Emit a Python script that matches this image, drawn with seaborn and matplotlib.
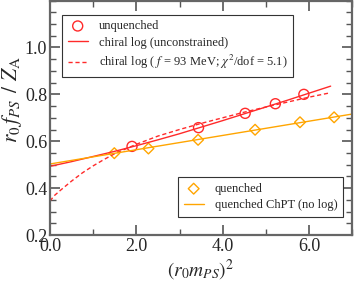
import numpy as np
import pandas as pd
import seaborn as sb
import matplotlib
matplotlib.use('Agg')
import matplotlib.pyplot as plt
from matplotlib.ticker import MultipleLocator, FixedLocator, FormatStrFormatter

# data -----------------------------------------------------------------
unq_x = [1.90, 3.44, 4.52, 5.22, 5.88]
unq_y = [0.578, 0.658, 0.719, 0.760, 0.800]

qu_x = [1.49, 2.28, 3.43, 4.75, 5.79, 6.58]
qu_y = [0.549, 0.569, 0.606, 0.649, 0.681, 0.702]

# chiral log fit (unconstrained), solid red
fit_x = [0.0, 0.5, 1.0, 1.5, 2.0, 2.5, 3.0, 3.5, 4.0, 4.5, 5.0, 5.5, 6.0, 6.5]
fit_y = [0.493, 0.513, 0.535, 0.557, 0.581, 0.606, 0.632, 0.660, 0.688, 0.717,
         0.746, 0.775, 0.805, 0.835]

# chiral log with f = 93 MeV, dashed red
f93_x = [0.0, 0.1, 0.25, 0.5, 0.75, 1.0, 1.25, 1.5, 1.75, 2.0, 2.5, 3.0, 3.5,
         4.0, 4.5, 5.0, 5.5, 6.0, 6.5]
f93_y = [0.345, 0.368, 0.392, 0.430, 0.465, 0.495, 0.522, 0.547, 0.567, 0.587,
         0.622, 0.650, 0.676, 0.700, 0.724, 0.746, 0.767, 0.788, 0.807]

# quenched ChPT (no log), orange
qfit_x = [0.0, 7.0]
qfit_y = [0.503, 0.716]

yticks = [0.2, 0.4, 0.6, 0.8, 1.0]

RED = '#ff2a2a'
ORANGE = '#ffa500'

sb.set_style('ticks')
plt.rcParams['font.family'] = ['Liberation Serif', 'DejaVu Serif']
plt.rcParams['mathtext.fontset'] = 'stix'

fig = plt.figure(figsize=(3.54, 2.84), dpi=100)
ax = fig.add_axes([0.1412, 0.1725, 0.8538, 0.8255])

sb.lineplot(x=fit_x, y=fit_y, ax=ax, color=RED, lw=1.0,
            label='chiral log (unconstrained)')
sb.lineplot(x=f93_x, y=f93_y, ax=ax, color=RED, lw=1.0, ls=(0, (3, 2)),
            label=r'chiral log ( $f$ = 93 MeV; $\chi^2$/dof = 5.1)')
sb.lineplot(x=qfit_x, y=qfit_y, ax=ax, color=ORANGE, lw=1.0,
            label='quenched ChPT (no log)')
sb.scatterplot(x=unq_x, y=unq_y, ax=ax, marker='o', s=52, facecolors='none',
               edgecolors=RED, linewidths=1.0, color=RED, label='unquenched')
sb.scatterplot(x=qu_x, y=qu_y, ax=ax, marker='D', s=30, facecolors='none',
               edgecolors=ORANGE, linewidths=1.0, color=ORANGE, label='quenched')

ax.set_xlim(0, 7)
ax.set_ylim(0.2, 1.2)
ax.xaxis.set_major_locator(MultipleLocator(2))
ax.xaxis.set_minor_locator(MultipleLocator(1))
ax.yaxis.set_major_locator(FixedLocator(yticks))
ax.yaxis.set_minor_locator(MultipleLocator(0.05))
ax.xaxis.set_major_formatter(FormatStrFormatter('%.1f'))
ax.yaxis.set_major_formatter(FormatStrFormatter('%.1f'))
ax.tick_params(which='both', direction='in', top=True, right=True,
               color='#555555', labelsize=13, pad=2)
ax.tick_params(which='major', length=7, width=1.2)
ax.tick_params(which='minor', length=4, width=1.0)
for s in ax.spines.values():
    s.set_color('#666666')
    s.set_linewidth(1.6)

ax.set_xlabel(r'$(r_0 m_{PS})^2$', fontsize=14, labelpad=2)
ax.set_ylabel(r'$r_0\, f_{PS}\;\,/\;\,Z_{\mathrm{A}}$', fontsize=15.5)
ax.yaxis.set_label_coords(-0.085, 0.58)

h, l = ax.get_legend_handles_labels()
d = dict(zip(l, h))
names1 = ['unquenched', 'chiral log (unconstrained)',
          r'chiral log ( $f$ = 93 MeV; $\chi^2$/dof = 5.1)']
names2 = ['quenched', 'quenched ChPT (no log)']
leg1 = ax.legend([d[n] for n in names1], names1, loc='upper left',
                 bbox_to_anchor=(0.04, 0.94), fontsize=9, frameon=True,
                 fancybox=False, edgecolor='#333333', framealpha=1,
                 handlelength=1.6, handletextpad=0.9, borderpad=0.45,
                 labelspacing=0.35, borderaxespad=0)
leg1.get_frame().set_linewidth(0.8)
ax.add_artist(leg1)
leg2 = ax.legend([d[n] for n in names2], names2, loc='lower right',
                 bbox_to_anchor=(0.97, 0.077), fontsize=9, frameon=True,
                 fancybox=False, edgecolor='#333333', framealpha=1,
                 handlelength=1.6, handletextpad=0.9, borderpad=0.45,
                 labelspacing=0.35, borderaxespad=0)
leg2.get_frame().set_linewidth(0.8)

fig.savefig('out.png', dpi=100)
